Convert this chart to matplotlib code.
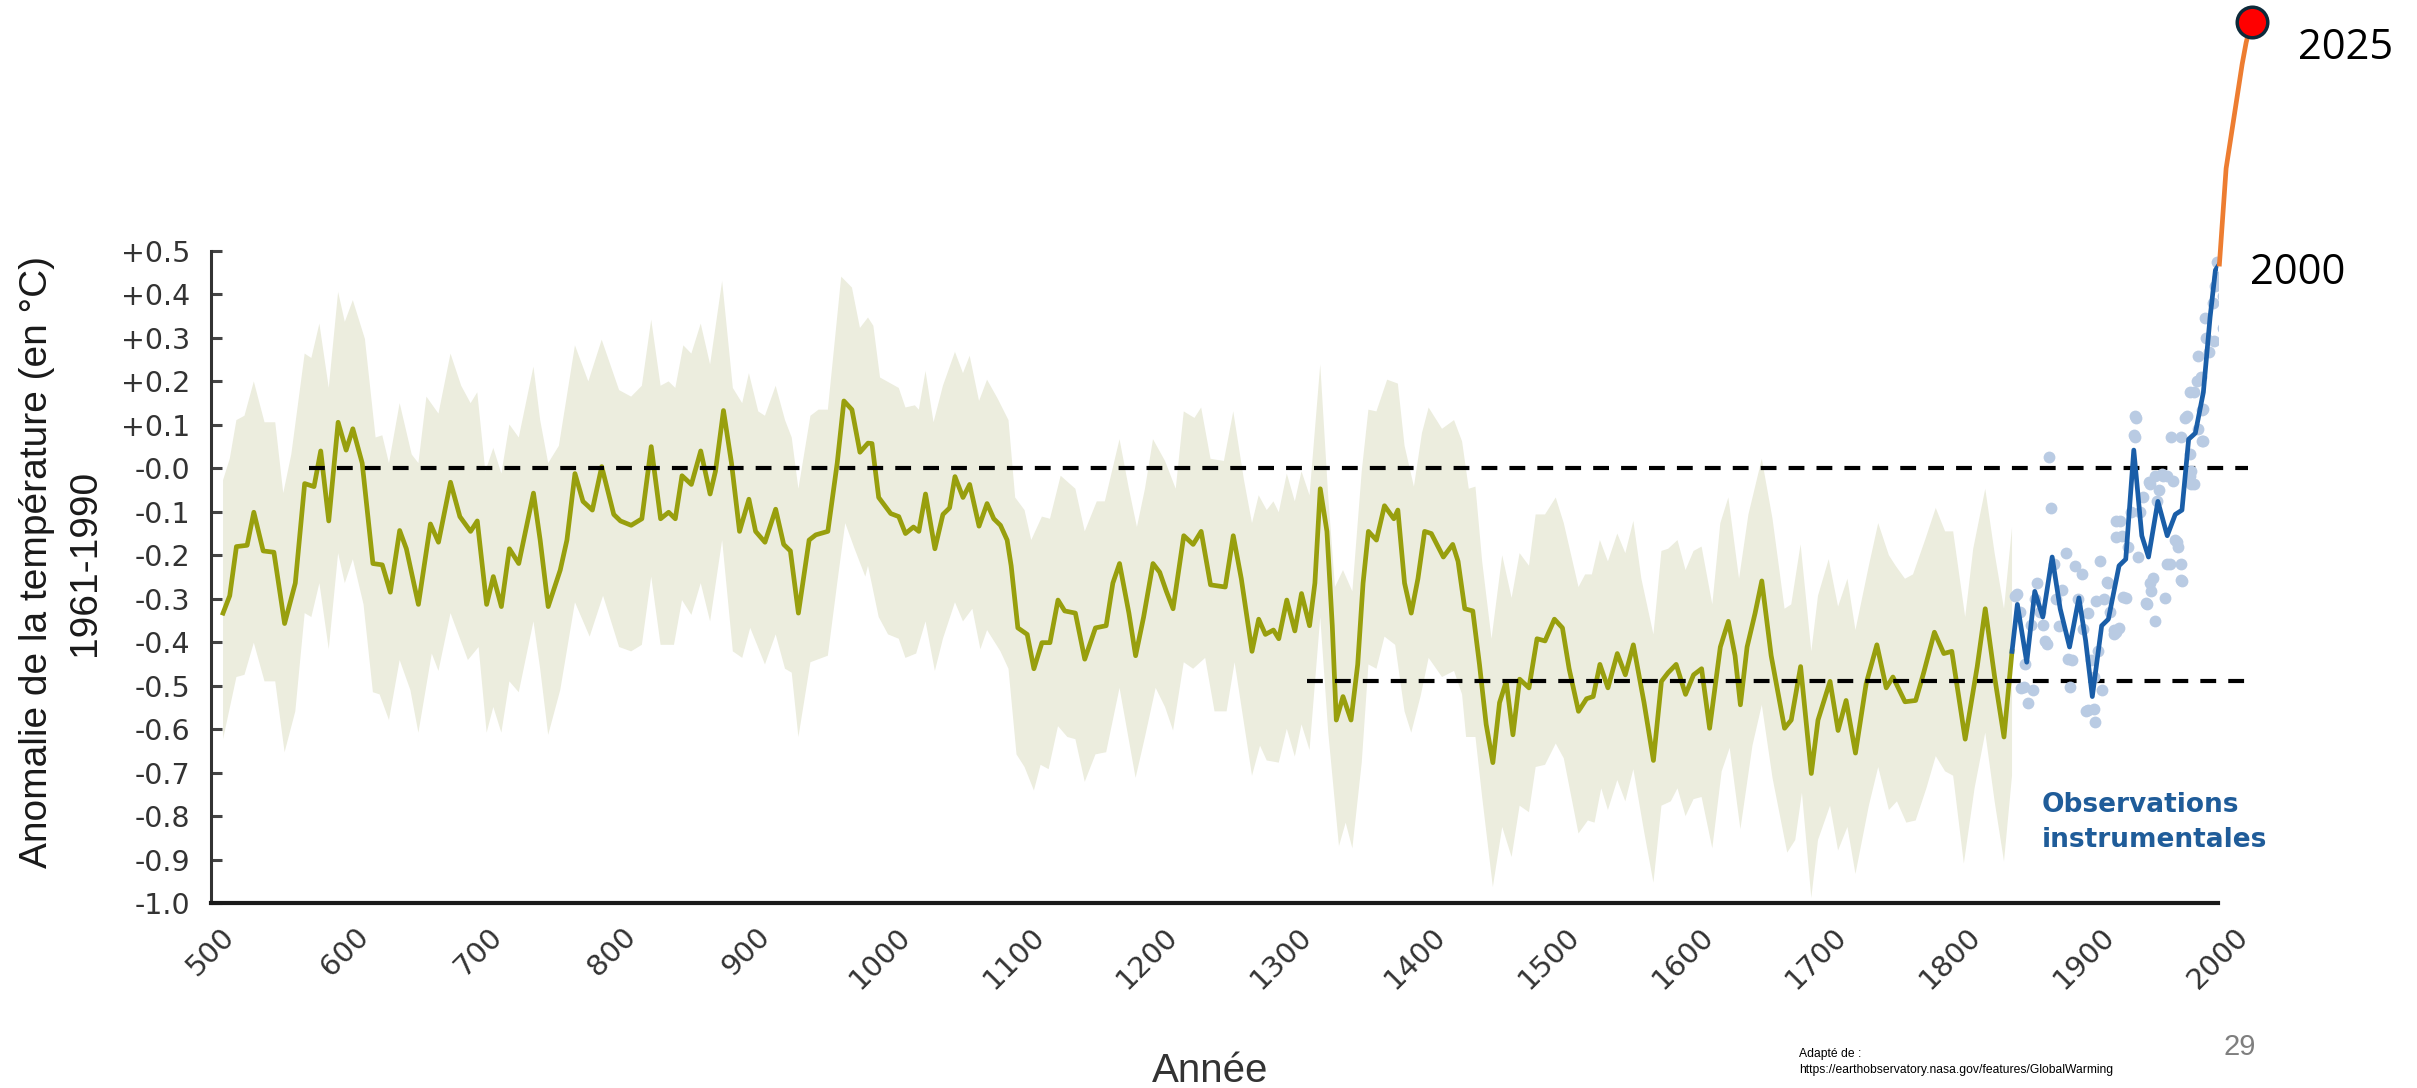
import matplotlib.pyplot as plt
import numpy as np

# reconstruction (courbe verte), annees / anomalie
recon_years = [509, 514, 519, 527, 532, 539, 547, 555, 563, 570, 577, 582, 588, 595, 601, 606, 613, 621, 628, 634,
               641, 646, 655, 664, 670, 679, 686, 694, 699, 706, 711, 717, 723, 730, 741, 746, 752, 761, 766, 772,
               778, 785, 792, 801, 806, 814, 822, 829, 836, 842, 847, 852, 859, 866, 873, 877, 883, 889, 895, 902,
               907, 914, 922, 928, 933, 939, 947, 952, 961, 968, 973, 979, 985, 991, 994, 999, 1008, 1014, 1019, 1025,
               1029, 1034, 1041, 1047, 1052, 1056, 1062, 1067, 1074, 1080, 1085, 1090, 1095, 1098, 1103, 1110, 1115,
               1121, 1127, 1133, 1138, 1146, 1153, 1161, 1169, 1174, 1179, 1186, 1191, 1197, 1204, 1209, 1214, 1219,
               1227, 1234, 1240, 1247, 1258, 1264, 1270, 1278, 1283, 1288, 1294, 1298, 1304, 1310, 1315, 1321, 1325,
               1329, 1334, 1338, 1341, 1346, 1352, 1357, 1361, 1365, 1371, 1377, 1384, 1387, 1392, 1397, 1402, 1407,
               1412, 1421, 1428, 1432, 1437, 1443, 1448, 1453, 1458, 1463, 1468, 1473, 1478, 1485, 1491, 1497, 1504,
               1510, 1515, 1522, 1528, 1533, 1538, 1544, 1551, 1557, 1563, 1571, 1578, 1584, 1589, 1595, 1602, 1608,
               1614, 1620, 1628, 1634, 1639, 1643, 1648, 1654, 1659, 1666, 1676, 1681, 1688, 1696, 1701, 1710, 1716,
               1722, 1729, 1737, 1745, 1752, 1757, 1766, 1774, 1780, 1788, 1795, 1801, 1811, 1820, 1826, 1833, 1840,
               1846]
recon_vals = [-0.333, -0.293, -0.18, -0.177, -0.101, -0.19, -0.193, -0.357, -0.264, -0.035, -0.042, 0.04, -0.121,
              0.106, 0.042, 0.091, 0.012, -0.219, -0.222, -0.285, -0.143, -0.185, -0.313, -0.128, -0.17, -0.032,
              -0.111, -0.145, -0.121, -0.313, -0.249, -0.318, -0.185, -0.219, -0.057, -0.165, -0.318, -0.234, -0.165,
              -0.012, -0.076, -0.096, 0.004, -0.106, -0.121, -0.131, -0.116, 0.05, -0.116, -0.101, -0.116, -0.017,
              -0.037, 0.04, -0.059, -0.007, 0.133, 0.012, -0.145, -0.071, -0.145, -0.17, -0.094, -0.175, -0.19,
              -0.333, -0.165, -0.153, -0.145, 0.012, 0.155, 0.135, 0.037, 0.058, 0.057, -0.067, -0.104, -0.111,
              -0.15, -0.135, -0.145, -0.059, -0.185, -0.106, -0.091, -0.019, -0.067, -0.037, -0.133, -0.081, -0.116,
              -0.131, -0.165, -0.224, -0.367, -0.382, -0.461, -0.401, -0.401, -0.303, -0.328, -0.333, -0.439, -0.367,
              -0.362, -0.264, -0.219, -0.333, -0.431, -0.342, -0.219, -0.239, -0.283, -0.323, -0.155, -0.175, -0.145,
              -0.268, -0.273, -0.155, -0.254, -0.421, -0.347, -0.382, -0.372, -0.392, -0.303, -0.374, -0.288, -0.362,
              -0.264, -0.047, -0.145, -0.362, -0.579, -0.525, -0.579, -0.451, -0.264, -0.145, -0.165, -0.086, -0.116,
              -0.096, -0.264, -0.333, -0.254, -0.145, -0.15, -0.204, -0.175, -0.214, -0.323, -0.328, -0.451, -0.589,
              -0.677, -0.539, -0.49, -0.613, -0.485, -0.505, -0.392, -0.397, -0.347, -0.367, -0.461, -0.559, -0.53,
              -0.525, -0.451, -0.505, -0.426, -0.475, -0.406, -0.539, -0.672, -0.49, -0.47, -0.451, -0.52, -0.475,
              -0.461, -0.598, -0.411, -0.352, -0.431, -0.544, -0.411, -0.333, -0.259, -0.431, -0.598, -0.579, -0.456,
              -0.702, -0.579, -0.49, -0.603, -0.534, -0.655, -0.495, -0.406, -0.505, -0.48, -0.537, -0.534, -0.47,
              -0.377, -0.426, -0.421, -0.623, -0.456, -0.323, -0.48, -0.618, -0.421]

# enveloppe d'incertitude
band_up_years = [509, 514, 519, 525, 532, 540, 548, 554, 560, 570, 575, 581, 588, 595, 600, 606, 615, 623, 628, 633,
                 641, 650, 655, 661, 670, 679, 687, 694, 699, 705, 711, 717, 723, 730, 741, 746, 752, 760, 772, 782,
                 792, 805, 814, 822, 829, 836, 842, 847, 853, 859, 866, 873, 882, 890, 897, 902, 909, 914, 922, 929,
                 934, 939, 948, 954, 961, 971, 979, 985, 991, 995, 1000, 1014, 1019, 1026, 1029, 1034, 1040, 1047,
                 1056, 1062, 1067, 1074, 1080, 1088, 1096, 1101, 1108, 1113, 1121, 1127, 1135, 1146, 1153, 1162, 1168,
                 1179, 1186, 1192, 1198, 1204, 1213, 1221, 1227, 1235, 1240, 1247, 1257, 1264, 1272, 1278, 1283, 1289,
                 1294, 1298, 1304, 1310, 1315, 1321, 1329, 1335, 1340, 1346, 1353, 1360, 1365, 1371, 1379, 1387, 1392,
                 1399, 1405, 1410, 1420, 1429, 1435, 1440, 1445, 1450, 1457, 1465, 1472, 1478, 1485, 1490, 1497, 1505,
                 1511, 1522, 1527, 1532, 1538, 1544, 1551, 1557, 1563, 1569, 1578, 1584, 1589, 1596, 1602, 1608, 1614,
                 1622, 1628, 1634, 1642, 1649, 1659, 1667, 1676, 1681, 1688, 1696, 1701, 1709, 1716, 1723, 1729, 1739,
                 1746, 1754, 1759, 1766, 1772, 1781, 1789, 1796, 1802, 1811, 1817, 1826, 1833, 1840, 1846]
band_up = [-0.027, 0.022, 0.111, 0.121, 0.2, 0.106, 0.106, -0.057, 0.032, 0.264, 0.254, 0.333, 0.185, 0.406, 0.337,
           0.387, 0.298, 0.071, 0.076, 0.012, 0.15, 0.032, 0.012, 0.165, 0.126, 0.264, 0.19, 0.15, 0.175, -0.007,
           0.047, -0.012, 0.101, 0.071, 0.234, 0.111, 0.012, 0.052, 0.283, 0.2, 0.296, 0.18, 0.165, 0.19, 0.342,
           0.19, 0.2, 0.185, 0.283, 0.264, 0.333, 0.239, 0.431, 0.185, 0.15, 0.219, 0.131, 0.121, 0.19, 0.111,
           0.071, -0.047, 0.121, 0.135, 0.135, 0.441, 0.416, 0.323, 0.347, 0.328, 0.209, 0.185, 0.14, 0.145, 0.135,
           0.224, 0.106, 0.19, 0.268, 0.219, 0.259, 0.155, 0.204, 0.16, 0.111, -0.067, -0.096, -0.165, -0.111,
           -0.116, -0.017, -0.047, -0.145, -0.076, -0.076, 0.067, -0.047, -0.135, -0.047, 0.067, 0.017, -0.047,
           0.131, 0.116, 0.14, 0.022, 0.017, 0.131, -0.027, -0.126, -0.062, -0.096, -0.076, -0.101, -0.012, -0.076,
           -0.007, -0.062, 0.239, -0.067, -0.273, -0.234, -0.283, -0.007, 0.135, 0.131, 0.204, 0.195, 0.052, -0.042,
           0.081, 0.14, 0.091, 0.111, 0.062, -0.047, -0.042, -0.214, -0.392, -0.2, -0.298, -0.195, -0.224, -0.106,
           -0.106, -0.067, -0.126, -0.273, -0.244, -0.244, -0.165, -0.214, -0.15, -0.195, -0.121, -0.254, -0.382,
           -0.19, -0.185, -0.165, -0.234, -0.19, -0.18, -0.313, -0.126, -0.067, -0.254, -0.106, 0.022, -0.116,
           -0.323, -0.313, -0.175, -0.421, -0.293, -0.209, -0.318, -0.254, -0.372, -0.224, -0.126, -0.2, -0.224,
           -0.254, -0.244, -0.165, -0.091, -0.145, -0.145, -0.342, -0.185, -0.047, -0.195, -0.323, -0.136]
band_lo_years = [509, 519, 525, 532, 540, 548, 555, 563, 570, 575, 581, 588, 595, 600, 606, 614, 621, 626, 633, 641,
                 649, 655, 665, 670, 679, 692, 700, 706, 711, 717, 723, 730, 741, 746, 752, 761, 772, 783, 793, 805,
                 814, 822, 829, 836, 846, 852, 859, 866, 873, 882, 890, 897, 903, 914, 922, 929, 934, 939, 948, 961,
                 968, 974, 981, 989, 991, 999, 1006, 1014, 1019, 1027, 1034, 1041, 1047, 1056, 1062, 1069, 1075, 1080,
                 1090, 1096, 1102, 1108, 1115, 1120, 1126, 1133, 1140, 1146, 1153, 1161, 1169, 1179, 1191, 1198, 1206,
                 1213, 1219, 1227, 1234, 1243, 1250, 1259, 1265, 1278, 1284, 1289, 1298, 1304, 1310, 1315, 1321, 1329,
                 1335, 1343, 1348, 1353, 1360, 1365, 1371, 1377, 1385, 1392, 1397, 1404, 1410, 1420, 1429, 1435, 1438,
                 1445, 1450, 1458, 1465, 1472, 1478, 1485, 1490, 1497, 1505, 1511, 1522, 1529, 1534, 1539, 1544, 1551,
                 1557, 1563, 1571, 1578, 1584, 1591, 1596, 1602, 1608, 1614, 1622, 1629, 1635, 1643, 1652, 1659, 1667,
                 1678, 1684, 1689, 1696, 1701, 1710, 1716, 1723, 1729, 1739, 1746, 1754, 1760, 1767, 1774, 1782, 1789,
                 1796, 1802, 1810, 1818, 1826, 1833, 1840, 1846]
band_lo = [-0.623, -0.48, -0.475, -0.401, -0.49, -0.49, -0.653, -0.559, -0.333, -0.342, -0.264, -0.416, -0.195,
           -0.264, -0.209, -0.313, -0.515, -0.52, -0.579, -0.441, -0.51, -0.608, -0.426, -0.466, -0.333, -0.441,
           -0.411, -0.608, -0.549, -0.608, -0.49, -0.515, -0.352, -0.461, -0.613, -0.51, -0.308, -0.387, -0.293,
           -0.411, -0.421, -0.406, -0.249, -0.406, -0.406, -0.303, -0.337, -0.264, -0.352, -0.165, -0.421, -0.436,
           -0.367, -0.451, -0.382, -0.461, -0.47, -0.618, -0.446, -0.431, -0.264, -0.126, -0.185, -0.249, -0.224,
           -0.342, -0.382, -0.392, -0.436, -0.426, -0.352, -0.466, -0.392, -0.308, -0.352, -0.323, -0.416, -0.372,
           -0.421, -0.461, -0.658, -0.687, -0.741, -0.682, -0.692, -0.593, -0.618, -0.623, -0.721, -0.658, -0.653,
           -0.505, -0.712, -0.618, -0.505, -0.549, -0.603, -0.446, -0.461, -0.436, -0.559, -0.559, -0.446, -0.707,
           -0.638, -0.672, -0.677, -0.599, -0.663, -0.589, -0.648, -0.342, -0.608, -0.869, -0.815, -0.874, -0.677,
           -0.451, -0.461, -0.387, -0.406, -0.559, -0.608, -0.524, -0.436, -0.48, -0.466, -0.52, -0.618, -0.618,
           -0.756, -0.963, -0.825, -0.894, -0.776, -0.791, -0.687, -0.682, -0.633, -0.667, -0.84, -0.81, -0.815,
           -0.736, -0.786, -0.717, -0.766, -0.692, -0.835, -0.953, -0.776, -0.766, -0.736, -0.8, -0.761, -0.756,
           -0.874, -0.697, -0.643, -0.83, -0.638, -0.544, -0.712, -0.884, -0.855, -0.746, -0.988, -0.855, -0.776,
           -0.879, -0.825, -0.933, -0.776, -0.687, -0.786, -0.766, -0.815, -0.81, -0.736, -0.662, -0.697, -0.707,
           -0.909, -0.736, -0.608, -0.766, -0.904, -0.707]

# observations instrumentales (courbe bleue lissee)
obs_years = [1846, 1850, 1857, 1863, 1869, 1876, 1882, 1889, 1896, 1901, 1906, 1913, 1918, 1926, 1931, 1937, 1943,
             1948, 1955, 1962, 1968, 1973, 1978, 1983, 1989, 1994, 1998, 2001]
obs_vals = [-0.421, -0.313, -0.446, -0.283, -0.342, -0.204, -0.323, -0.411, -0.298, -0.396, -0.525, -0.362, -0.347,
            -0.224, -0.209, 0.042, -0.155, -0.204, -0.076, -0.155, -0.106, -0.096, 0.067, 0.081, 0.175, 0.347, 0.456,
            0.47]

# valeurs annuelles (points bleu clair) : (annee, anomalie)
obs_points = [(1848, -0.293), (1850, -0.289), (1852, -0.33), (1853, -0.505), (1855, -0.503), (1856, -0.45),
              (1858, -0.539), (1860, -0.36), (1862, -0.51), (1863, -0.3), (1865, -0.264), (1867, -0.33),
              (1869, -0.36), (1871, -0.397), (1872, -0.404), (1874, 0.027), (1875, -0.091), (1877, -0.22),
              (1879, -0.3), (1881, -0.362), (1883, -0.28), (1886, -0.195), (1888, -0.439), (1889, -0.503),
              (1891, -0.441), (1893, -0.224), (1895, -0.3), (1898, -0.244), (1899, -0.37), (1901, -0.559),
              (1903, -0.333), (1903, -0.556), (1905, -0.44), (1907, -0.48), (1907, -0.553), (1908, -0.584),
              (1909, -0.305), (1910, -0.42), (1912, -0.214), (1913, -0.51), (1915, -0.3), (1917, -0.261),
              (1918, -0.264), (1919, -0.33), (1922, -0.382), (1922, -0.372), (1924, -0.158), (1924, -0.121),
              (1924, -0.376), (1926, -0.367), (1927, -0.121), (1928, -0.155), (1929, -0.296), (1931, -0.298),
              (1933, -0.18), (1935, -0.1), (1937, 0.077), (1938, 0.12), (1938, 0.071), (1939, 0.116),
              (1940, -0.204), (1942, -0.1), (1944, -0.067), (1946, -0.31), (1947, -0.313), (1948, -0.032),
              (1949, -0.036), (1949, -0.264), (1950, -0.283), (1951, -0.252), (1953, -0.017), (1953, -0.352),
              (1954, -0.075), (1956, -0.05), (1958, -0.012), (1959, -0.018), (1960, -0.298), (1962, -0.017),
              (1962, -0.219), (1964, -0.22), (1965, 0.071), (1966, -0.03), (1968, -0.165), (1969, -0.17),
              (1970, -0.18), (1972, -0.219), (1972, -0.257), (1973, -0.259), (1972, 0.073), (1975, 0.116),
              (1977, 0.12), (1979, 0.032), (1979, 0.175), (1979, -0.018), (1980, -0.007), (1980, -0.036),
              (1982, -0.037), (1982, 0.176), (1984, 0.2), (1985, 0.091), (1985, 0.259), (1987, 0.209),
              (1988, 0.135), (1988, 0.062), (1989, 0.137), (1989, 0.063), (1990, 0.347), (1991, 0.3),
              (1993, 0.268), (1995, 0.544), (1996, 0.38), (1997, 0.293), (1998, 0.42), (1999, 0.475),
              (2000, 0.441), (2003, 0.426), (2004, 0.397), (2004, 0.323)]
pts_years = [p[0] for p in obs_points]
pts_vals = [p[1] for p in obs_points]

# tendance recente (orange) jusqu'a 2025
proj_years = [2001, 2006, 2010, 2014, 2018, 2021, 2025]
proj_vals = [0.47, 0.69, 0.77, 0.85, 0.93, 0.98, 1.027]

# lignes de reference pointillees: (debut, fin, niveau)
ref_lines = [(573, 2022, 0.0), (1319, 2022, -0.49)]

x_ticks = list(range(500, 2001, 100))
y_ticks = [0.5, 0.4, 0.3, 0.2, 0.1, 0.0, -0.1, -0.2, -0.3, -0.4, -0.5, -0.6, -0.7, -0.8, -0.9, -1.0]
y_labels = ['+0.5', '+0.4', '+0.3', '+0.2', '+0.1', '-0.0', '-0.1', '-0.2', '-0.3', '-0.4', '-0.5', '-0.6',
            '-0.7', '-0.8', '-0.9', '-1.0']

fig = plt.figure(figsize=(24.17, 10.88), dpi=100)
ax = fig.add_axes([0.0873, 0.170, 0.8304, 0.5993])

# bande d'incertitude
ax.fill(list(band_up_years) + band_lo_years[::-1], list(band_up) + band_lo[::-1],
        color='#ecedde', lw=0, zorder=1)
ax.plot(recon_years, recon_vals, color='#989f0d', lw=3.4, zorder=2, solid_joinstyle='round')

for x0, x1, lvl in ref_lines:
    ax.plot([x0, x1], [lvl, lvl], color='black', lw=3, linestyle=(0, (3.8, 2.9)),
            clip_on=False, zorder=3)

ax.plot(pts_years, pts_vals, 'o', ms=8.5, color='#b9cbe3', mec='none', zorder=3)
ax.plot(obs_years, obs_vals, color='#1a5ea8', lw=3.4, zorder=4, solid_joinstyle='round')
ax.plot(proj_years, proj_vals, color='#ed7d31', lw=3.4, clip_on=False, zorder=5)
ax.plot(proj_years[-1], proj_vals[-1], 'o', ms=22, mfc='#ff0000', mec='#0d2a3a', mew=2.5,
        clip_on=False, zorder=6)

ax.text(2024, 0.45, '2000', fontsize=30, family='Open Sans', va='center', ha='left')
ax.text(2060, 0.967, '2025', fontsize=30, family='Open Sans', va='center', ha='left')
ax.text(1868, -0.745, 'Observations\ninstrumentales', fontsize=19, fontweight='bold',
        color='#1f5c99', va='top', ha='left', linespacing=1.45)

ax.set_xlim(500, 2000)
ax.set_ylim(-1.0, 0.5)
ax.spines['top'].set_visible(False)
ax.spines['right'].set_visible(False)
ax.spines['left'].set_color('#333333')
ax.spines['left'].set_linewidth(2.2)
ax.spines['bottom'].set_color('#1a1a1a')
ax.spines['bottom'].set_linewidth(3)

ax.set_yticks(y_ticks)
ax.set_yticklabels(y_labels)
ax.set_xticks(x_ticks)
ax.set_xticklabels([str(t) for t in x_ticks], rotation=45, ha='center')
ax.tick_params(axis='y', direction='in', length=8, width=2.2, color='#444444', pad=15,
               labelsize=20.5, labelcolor='#333333')
ax.tick_params(axis='x', length=0, pad=14, labelsize=21, labelcolor='#333333')

fig.text(0.0252, 0.483, 'Anomalie de la température (en °C)\n1961-1990', rotation=90,
         ha='center', va='center', ma='center', fontsize=28, family='Liberation Sans',
         color='#1a1a1a', linespacing=1.4)
fig.text(0.5006, 0.0055, 'Année', ha='center', va='baseline', fontsize=29,
         family='Liberation Sans', color='#333333')
fig.text(0.7443, 0.0239, 'Adapté de :\nhttps://earthobservatory.nasa.gov/features/GlobalWarming',
         ha='left', va='center', fontsize=8.7, family='Liberation Sans', linespacing=1.5)
fig.text(0.9268, 0.0377, '29', ha='center', va='center', fontsize=21, family='Liberation Sans',
         color='#7f7f7f')

fig.savefig('out.png', dpi=100)
